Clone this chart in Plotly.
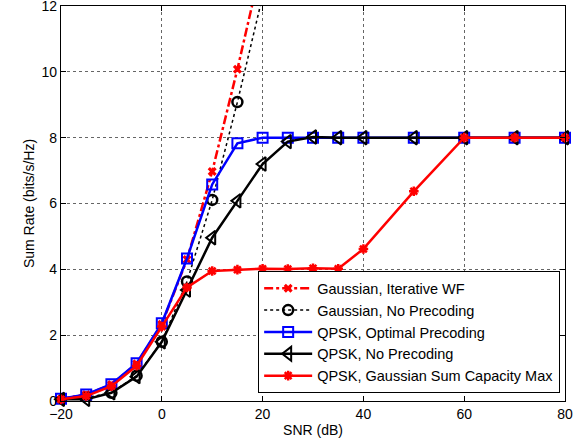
import plotly.graph_objects as go

snr = [-20, -15, -10, -5, 0, 5, 10, 15, 20, 25, 30, 35, 40, 50, 60, 70, 80]
snr_gauss = [-20, -15, -10, -5, 0, 5, 10, 15, 20]

gauss_wf = [0.07, 0.2, 0.5, 1.13, 2.33, 4.3, 6.97, 10.08, 13.4]
gauss_noprec = [0.05, 0.1, 0.25, 0.77, 1.8, 3.63, 6.11, 9.08, 12.3]
qpsk_opt = [0.07, 0.2, 0.51, 1.15, 2.36, 4.33, 6.58, 7.83, 8.0, 8.0, 8.0, 8.0, 8.0, 8.0, 8.0, 8.0, 8.0]
qpsk_noprec = [0.05, 0.05, 0.25, 0.74, 1.8, 3.37, 4.96, 6.08, 7.2, 7.88, 8.02, 8.0, 8.0, 8.0, 8.0, 8.0, 8.0]
qpsk_sumcap = [0.05, 0.15, 0.45, 1.07, 2.26, 3.45, 3.95, 3.99, 4.02, 4.01, 4.03, 4.02, 4.62, 6.37, 8.0, 8.0, 8.0]

names = ["Gaussian, Iterative WF", "Gaussian, No Precoding", "QPSK, Optimal Precoding",
         "QPSK, No Precoding", "QPSK, Gaussian Sum Capacity Max"]

fig = go.Figure()
fig.add_trace(go.Scatter(x=snr_gauss, y=gauss_wf, name=names[0], mode="lines+markers",
                         line=dict(color="#ff0000", width=2.5, dash="dashdot"),
                         marker=dict(symbol="x", size=8, color="#ff0000")))
fig.add_trace(go.Scatter(x=snr_gauss, y=gauss_noprec, name=names[1], mode="lines+markers",
                         line=dict(color="black", width=1.5, dash="dot"),
                         marker=dict(symbol="circle-open", size=10, color="black", line=dict(width=2.5))))
fig.add_trace(go.Scatter(x=snr, y=qpsk_opt, name=names[2], mode="lines+markers", cliponaxis=False,
                         line=dict(color="#0000ff", width=2.5),
                         marker=dict(symbol="square-open", size=10, color="#0000ff", line=dict(width=2))))
fig.add_trace(go.Scatter(x=snr, y=qpsk_noprec, name=names[3], mode="lines+markers", cliponaxis=False,
                         line=dict(color="black", width=2.5),
                         marker=dict(symbol="triangle-left-open", size=12, color="black", line=dict(width=2))))
fig.add_trace(go.Scatter(x=snr, y=qpsk_sumcap, name=names[4], mode="lines+markers", cliponaxis=False,
                         line=dict(color="#ff0000", width=2.5),
                         marker=dict(symbol="asterisk-open", size=8, color="#ff0000", line=dict(width=2.5, color="#ff0000"))))

axis_common = dict(showline=True, linecolor="black", linewidth=1.2, mirror="ticks",
                   ticks="inside", ticklen=5, tickcolor="black",
                   showgrid=True, gridcolor="#666666", griddash="dot", gridwidth=1,
                   zeroline=False, tickfont=dict(size=14, color="black"),
                   ticklabeloverflow="allow")

fig.update_xaxes(range=[-20, 80], tickvals=[-20, 0, 20, 40, 60, 80],
                 ticktext=["\u221220", "0", "20", "40", "60", "80"],
                 title=dict(text="SNR (dB)", font=dict(size=14, color="black"), standoff=4),
                 **axis_common)
fig.update_yaxes(range=[0, 12], tickvals=[0, 2, 4, 6, 8, 10, 12],
                 title=dict(text="Sum Rate (bits/s/Hz)", font=dict(size=14, color="black"), standoff=3),
                 **axis_common)

fig.update_layout(
    width=579, height=444,
    margin=dict(l=61, r=14, t=6, b=43, autoexpand=False),
    paper_bgcolor="white", plot_bgcolor="white",
    font=dict(family="Liberation Sans, Arial, sans-serif", color="black"),
    legend=dict(x=0.99, y=0.02, xanchor="right", yanchor="bottom",
                bgcolor="white", bordercolor="black", borderwidth=1.2,
                font=dict(size=14.5, color="black"), itemwidth=48,
                tracegroupgap=0, traceorder="normal"),
    showlegend=True,
)

fig.write_html("out.html", post_script="document.body.style.margin='0';",
               config={"displayModeBar": False})
